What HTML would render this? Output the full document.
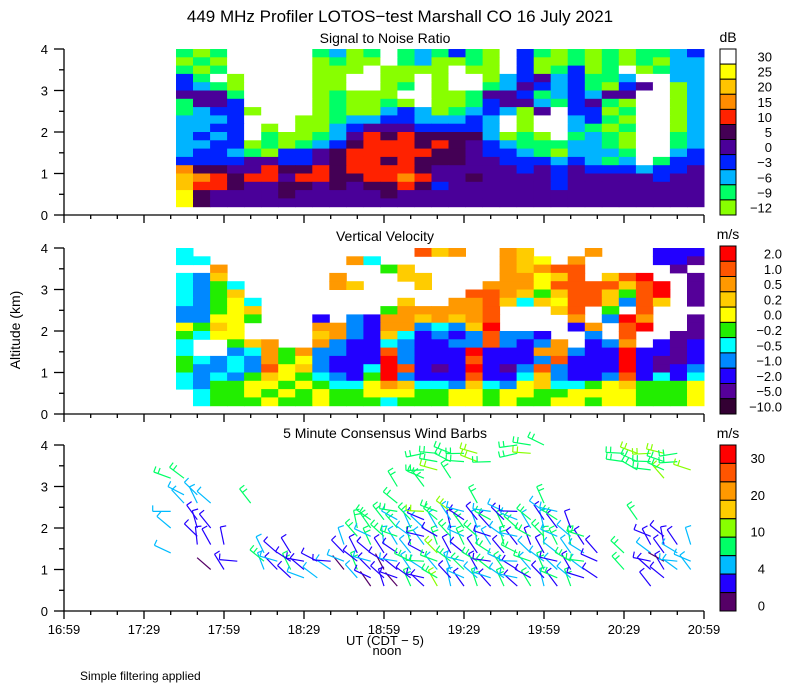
<!DOCTYPE html>
<html><head><meta charset="utf-8">
<style>
body{margin:0;background:#fff;}
svg{display:block;font-family:"Liberation Sans",sans-serif;}
</style></head>
<body>
<svg id="chart" width="800" height="700" viewBox="0 0 800 700">
<rect width="800" height="700" fill="#fff"/>
<text x="400" y="22" font-size="17" text-anchor="middle">449 MHz Profiler LOTOS−test Marshall CO 16 July 2021</text>
<text x="385" y="43" font-size="14" text-anchor="middle">Signal to Noise Ratio</text>
<text x="385" y="241" font-size="14" text-anchor="middle">Vertical Velocity</text>
<text x="385" y="438" font-size="14" text-anchor="middle">5 Minute Consensus Wind Barbs</text>
<text x="20" y="330" font-size="14" text-anchor="middle" transform="rotate(-90 20 330)">Altitude (km)</text>
<text x="385" y="645" font-size="13" text-anchor="middle">UT  (CDT − 5)</text>
<text x="387" y="655" font-size="13" text-anchor="middle">noon</text>
<text x="80" y="680" font-size="12">Simple filtering applied</text>
<g id="layer"></g>
</svg>
<script>
// ---- data ----
const timeLabels = ["16:59","17:29","17:59","18:29","18:59","19:29","19:59","20:29","20:59"];
const altTicks = [0,1,2,3,4];
const snrLevels = ["30","25","20","15","10","5","0","−3","−6","−9","−12"];
const velLevels = ["2.0","1.0","0.5","0.2","0.0","−0.2","−0.5","−1.0","−2.0","−5.0","−10.0"];
const windLevels = ["30","20","10","4","0"];
// SNR grid: rows from 4.0 km downward (0.2 km each), columns from 17:41 to 20:59
const snrRows = [
"101WWWWW1201W121310W31010101123",
"010WWWWW0100W120010W30010101022",
"101WWWWW000W0000W00W301301W0122",
"31W0WWWW00WW00W0WW023423112WW22",
"3210WWWW00WW01W0WW1243231034W02",
"4441WWWW01000WW001443123244WW02",
"1443WWWW010010W001344213410WW02",
"12330WWW01002320123204W3301WW02",
"2223WWW001223322232W0WW2310WW02",
"2233W0W002344433332W0WW2101WW02",
"2323W10012465655552010W1210WW12",
"223301012356665654321112210WW12",
"233210334566666554332102221WW23",
"333344334566565554433323212W133",
"7554465565666654444434343332334",
"8765664665566764454444344444344",
"8665445545455653444444344444444",
"9544445444445444444444444444444",
"9544444444444444444444444444444"];
// Vertical velocity grid ('.' = missing)
const velRows = [
"6.............132..23...2...888",
"66........26.......234.2....889",
"..2.........53.....23211.....9.",
"673......2...33....22431.310..9",
"6756.....23...3...22241111310.9",
"6753.............112353113510.9",
"67546........3..2213634113713.9",
"77543.......5222221...31.5.1...",
"77445...8.782232321....2.702..9",
"4534....22782276730....82.10..9",
"5644....32783687871778..7.1..99",
"6..532..278867887717872.872.898",
"6..7625277881788808882278808898",
"5676725478880788818887188808998",
"5776714378860189808971788808987",
"6767534567850788818863788718686",
"6755445456642366736743665435554",
".655454545544455445445544445554",
".655545545556555445455445445554"];
// Wind barbs: columns every 5 min from 17:39; chars bottom (0.6 km) to top (4.0 km)
const windTimes = [40,45,50,55,60,65,70,75,80,85,90,95,100,105,110,115,120,125,130,135,140,145,150,155,160,165,170,175,180,185,190,195,200,205,210,215,220,225,230,235];
const windCols = [
"....c..c.c...g....",
"..........cc.g....",
".....bbbb.cc......",
"..p..b.b..c.......",
"..b..b............",
"...b..............",
"..........g.......",
"..cgc.............",
"..bcb.............",
".bgbb.............",
".cbb..............",
".c.b..............",
"..cb..............",
"..pcbc............",
".cgbb.gg..........",
"pbbcbgcgg.........",
"bbpbbcg.g.........",
"pbbcbcggcgg.g.....",
"gbcgcgccg.........",
"bbcgbcbcbl..ggg.g.",
"lgcglgbcgg....lgg.",
"cbcgbcgbcl...g.gg.",
"bcgcbgcgbc.....gg.",
"gcbgbcgcb.g....ll.",
"bcgbgcbbgc.....g..",
"gcgcbgcgbc........",
"bcbcgbcgcb......gg",
"gbcgcbgcg.......lg",
"cbgcbggcbcg......g",
"bgcbcgcbgc........",
"gcbgcgcb..........",
".bcgcbg...........",
".b.bb.............",
"..................",
"..g.g..........gg.",
"........g.....ggl.",
"b.bbcbb.......ggl.",
".bbpbbb......lggl.",
"..cccb.........gg.",
"..cc.c........l...."];
const windDirs = [330,300,320,290,315,340,300,330,310,290,320,300,340,310,285,280,275,280];
const windSpeed = {p:1,b:3,c:5,g:8,l:12};

// ---- scales ----
const X0=64, X1=704, T0=0, T1=240;
const xs = m => X0 + (m-T0)*(X1-X0)/(T1-T0);
const panels = [{top:49,bot:215},{top:248,bot:414},{top:445,bot:611}];
const ys = (p,a) => p.bot - a*(p.bot-p.top)/4;
const NS="http://www.w3.org/2000/svg";
const layer=document.getElementById('layer');
function mk(tag,attrs,parent){const e=document.createElementNS(NS,tag);for(const k in attrs)e.setAttribute(k,attrs[k]);(parent||layer).appendChild(e);return e;}

const snrColors=["#88ff00","#00ff66","#00b4ff","#0022ff","#4a0099","#440055","#ff2200","#ff8c00","#ffc400","#ffff00","#ffffff"];
const snrCode=c=>c==="W"?10:parseInt(c);
const velColors=["#ff0000","#ff5500","#ff9900","#ffcc00","#ffff00","#22ee00","#00ffff","#0088ff","#2200ff","#550099","#330033"];

function drawGrid(rows,p,colorOf,name){
  const g=mk('g',{});
  
  
  const t0=42, dt=(T1-t0)/31;
  rows.forEach((row,k)=>{
    const aTop=4.0-0.2*k, aBot=aTop-0.2;
    for(let i=0;i<31;i++){
      const ch=row[i]||row[row.length-1];
      const col=colorOf(ch); if(!col) continue;
      const x=xs(t0+i*dt), w=xs(t0+(i+1)*dt)-x;
      const r=mk('rect',{x:x.toFixed(1),y:ys(p,aTop).toFixed(1),width:(w+0.5).toFixed(1),height:(ys(p,aBot)-ys(p,aTop)+0.5).toFixed(1),fill:col},g);
      
      
    }
  });
}
drawGrid(snrRows,panels[0],c=>snrColors[snrCode(c)],'snr-heatmap');
drawGrid(velRows,panels[1],c=>c==="."?null:velColors[parseInt(c)],'velocity-heatmap');

// wind barbs
function windColor(s){if(s<2)return"#550066";if(s<4)return"#2200ff";if(s<7)return"#00bbff";if(s<10)return"#00ff66";if(s<15)return"#88ff00";return"#ffcc00";}
const wg=mk('g',{});


windCols.forEach((col,i)=>{
  for(let j=0;j<18;j++){
    const ch=col[j]; if(!ch||ch===".")continue;
    const s=windSpeed[ch]; const a=0.6+0.2*j;
    const x=xs(windTimes[i]), y=ys(panels[2],a);
    const d=(windDirs[j]+ (i*17)%40-20)*Math.PI/180;
    const L=18, dx=Math.sin(d)*L, dy=-Math.cos(d)*L;
    const c=windColor(s);
    const b=mk('path',{d:`M${x.toFixed(1)},${y.toFixed(1)}l${dx.toFixed(1)},${dy.toFixed(1)}`+
      (s>=3?`m0,0l${(Math.cos(d)*6).toFixed(1)},${(Math.sin(d)*6).toFixed(1)}`:"")+
      (s>=8?`M${(x+dx*0.75).toFixed(1)},${(y+dy*0.75).toFixed(1)}l${(Math.cos(d)*6).toFixed(1)},${(Math.sin(d)*6).toFixed(1)}`:""),
      stroke:c,'stroke-width':1.2,fill:'none'},wg);
    
    
  }
});

// axes
panels.forEach((p,pi)=>{
  const ax=mk('g',{stroke:'#000','stroke-width':1.3,fill:'none'});
  
  
  mk('path',{d:`M${X0},${p.top}V${p.bot}H${X1}`},ax);
  for(let a=0;a<=4;a+=0.5){const y=ys(p,a);mk('path',{d:`M${X0-(a%1===0?10:5)},${y.toFixed(1)}H${X0}`},ax);}
  for(let m=0;m<=240;m+=10){const x=xs(m);mk('path',{d:`M${x.toFixed(1)},${p.bot}v${m%30===0?8:4}`},ax);}
  altTicks.forEach(a=>{const t=mk('text',{x:48,y:(ys(p,a)+5).toFixed(1),'font-size':13,'text-anchor':'end',stroke:'none',fill:'#000'});t.textContent=a;
    
    });
});
timeLabels.forEach((l,i)=>{const t=mk('text',{x:xs(i*30).toFixed(1),y:634,'font-size':13,'text-anchor':'middle'});t.textContent=l;
  
  });

// colorbars
function colorbar(top,bot,colors,labels,unit,labelPos,name,lx){
  const g=mk('g',{});
  
  
  const n=colors.length,h=(bot-top)/n;
  colors.forEach((c,i)=>{const r=mk('rect',{x:720,y:(top+i*h).toFixed(1),width:16,height:h.toFixed(1),fill:c,stroke:'#000','stroke-width':1},g);
    
    });
  labels.forEach((l,i)=>{const t=mk('text',{x:lx,y:(labelPos(i,h)+5).toFixed(1),'font-size':13,'text-anchor':'end'},g);t.textContent=l;
    
    });
  const u=mk('text',{x:728,y:top-7,'font-size':14,'text-anchor':'middle'},g);u.textContent=unit;
  
  
}
colorbar(49,215,[...snrColors].reverse(),snrLevels,"dB",(i,h)=>49+(i+0.5)*h,'snr-colorbar',772);
colorbar(246,414,velColors,velLevels,"m/s",(i,h)=>246+(i+0.5)*h,'velocity-colorbar',782);
colorbar(445,611,["#ff0000","#ff5500","#ff9900","#ffcc00","#88ff00","#00ff66","#00bbff","#2200ff","#550066"],windLevels,"m/s",(i,h)=>445+(2*i+0.7)*h,'wind-colorbar',765);
</script>
</body></html>
